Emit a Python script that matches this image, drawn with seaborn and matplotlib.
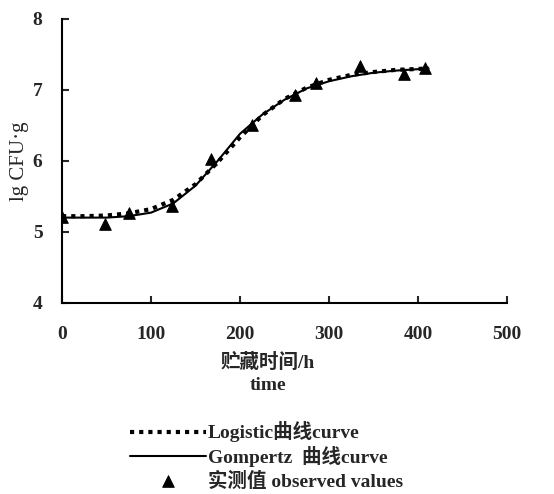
import matplotlib
matplotlib.use('Agg')
import matplotlib.pyplot as plt
import seaborn as sns

# observed values (storage time h, lg CFU/g)
obs_time = [0, 48, 75, 124, 167, 214, 262, 285, 335, 384, 408]
obs_value = [5.21, 5.11, 5.27, 5.37, 6.03, 6.50, 6.92, 7.10, 7.33, 7.22, 7.30]

# fitted curves
curve_time = [0, 25, 50, 75, 100, 125, 150, 175, 200, 225, 250, 275, 300, 325, 350, 375, 412]
gompertz = [5.20, 5.20, 5.20, 5.22, 5.27, 5.40, 5.65, 6.00, 6.38, 6.65, 6.86, 7.02, 7.12, 7.19, 7.24, 7.27, 7.30]
logistic = [5.22, 5.22, 5.23, 5.26, 5.32, 5.45, 5.67, 5.98, 6.33, 6.64, 6.87, 7.03, 7.14, 7.21, 7.25, 7.28, 7.30]

x_ticks = [0, 100, 200, 300, 400, 500]
y_ticks = [4, 5, 6, 7, 8]

sns.set_style('ticks')
fonts = ['Liberation Serif', 'Noto Sans CJK SC']
plt.rcParams['font.family'] = fonts
plt.rcParams['font.weight'] = 'bold'

fig = plt.figure(figsize=(5.54, 4.94), dpi=100)
ax = fig.add_axes([0.112, 0.387, 0.803, 0.575])

sns.lineplot(x=curve_time, y=logistic, ax=ax, color='black', lw=3,
             linestyle=(0, (1, 1.2)), label='Logistic曲线curve')
sns.lineplot(x=curve_time, y=gompertz, ax=ax, color='black', lw=1.5,
             label='Gompertz  曲线curve')
sns.scatterplot(x=obs_time, y=obs_value, ax=ax, color='black', marker='^',
                s=70, edgecolor='black', label='实测值 observed values', zorder=5)

ax.set_xlim(0, 500)
ax.set_ylim(4, 8)
ax.set_xticks(x_ticks)
ax.set_yticks(y_ticks)
ax.tick_params(direction='in', length=5, width=1.5, labelsize=14)
ax.tick_params(axis='x', pad=17)
ax.tick_params(axis='y', pad=14)
for lab in ax.get_xticklabels() + ax.get_yticklabels():
    lab.set_fontweight('bold')
for s in ['top', 'right']:
    ax.spines[s].set_visible(False)
for s in ['left', 'bottom']:
    ax.spines[s].set_linewidth(1.5)
    ax.spines[s].set_color('black')

ax.set_xlabel('贮藏时间/h\ntime', fontsize=14, fontweight='bold', linespacing=1.4)
ax.xaxis.set_label_coords(0.463, -0.175)
ax.set_ylabel('lg CFU·g', fontsize=15, fontweight='normal')
ax.yaxis.set_label_coords(-0.075, 0.5)

ax.legend(loc='upper left', bbox_to_anchor=(0.235, 0.147), bbox_transform=fig.transFigure,
          frameon=False, handlelength=3.9, handletextpad=0.1,
          labelspacing=0.2, borderpad=0, borderaxespad=0,
          prop={'family': fonts, 'weight': 'bold', 'size': 14})

fig.savefig('out.png', dpi=100)
